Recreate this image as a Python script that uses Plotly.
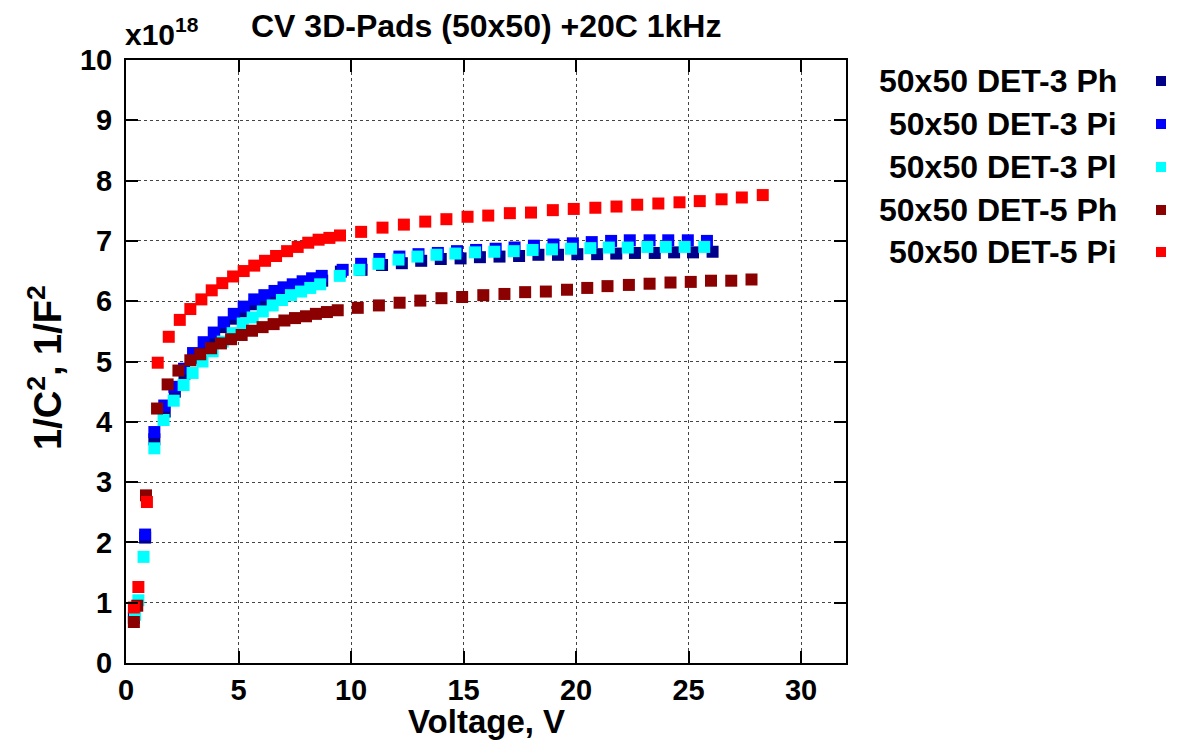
import plotly.graph_objects as go

# ---- data (values in units of 1e18 1/F^2) ----
det3_ph_v = [0.35, 0.85, 1.26, 1.72, 2.17, 2.6, 3.02, 3.47, 3.92, 4.36, 4.81, 5.25, 5.72, 6.17, 6.62, 7.02, 7.43, 7.87, 8.29, 8.72,
             9.55, 10.47, 11.38, 12.26, 13.12, 13.99, 14.87, 15.73, 16.6, 17.47, 18.33, 19.2, 20.06, 20.94, 21.79, 22.62, 23.5,
             24.36, 25.2, 26.07]
det3_ph_c = [0.75, 2.08, 3.71, 4.17, 4.50, 4.80, 5.06, 5.24, 5.40, 5.57, 5.71, 5.83, 5.95, 6.02, 6.09, 6.15, 6.20, 6.25, 6.30, 6.34,
             6.49, 6.52, 6.60, 6.63, 6.67, 6.70, 6.71, 6.73, 6.74, 6.75, 6.77, 6.77, 6.78, 6.78, 6.79, 6.80, 6.80, 6.81, 6.81, 6.82]

det3_pi_v = [0.4, 0.85, 1.26, 1.70, 2.15, 2.58, 2.98, 3.45, 3.9, 4.34, 4.79, 5.23, 5.7, 6.15, 6.6, 7.0, 7.41, 7.85, 8.27, 8.7,
             9.63, 10.45, 11.26, 12.15, 13.0, 13.86, 14.71, 15.56, 16.43, 17.27, 18.13, 19.0, 19.86, 20.7, 21.56, 22.39, 23.27,
             24.1, 24.97, 25.82]
det3_pi_c = [0.85, 2.13, 3.83, 4.27, 4.58, 4.88, 5.14, 5.32, 5.48, 5.65, 5.79, 5.91, 6.03, 6.10, 6.17, 6.23, 6.28, 6.33, 6.38, 6.42,
             6.52, 6.62, 6.70, 6.74, 6.78, 6.80, 6.83, 6.85, 6.87, 6.89, 6.92, 6.94, 6.96, 6.98, 7.00, 7.01, 7.01, 7.01, 7.01, 7.00]

det3_pl_v = [0.4, 0.55, 0.78, 1.26, 1.67, 2.12, 2.56, 2.96, 3.4, 3.85, 4.3, 4.74, 5.19, 5.63, 6.08, 6.52, 6.93, 7.33, 7.78, 8.19, 8.63,
             9.5, 10.37, 11.22, 12.11, 12.95, 13.8, 14.64, 15.51, 16.37, 17.23, 18.07, 18.93, 19.78, 20.64, 21.46, 22.3, 23.17,
             23.99, 24.83, 25.7]
det3_pl_c = [0.8, 1.04, 1.76, 3.56, 4.03, 4.35, 4.61, 4.81, 5.0, 5.17, 5.33, 5.47, 5.63, 5.73, 5.83, 5.93, 6.02, 6.10, 6.16, 6.22, 6.28,
             6.42, 6.52, 6.62, 6.69, 6.74, 6.77, 6.79, 6.81, 6.82, 6.83, 6.85, 6.86, 6.87, 6.88, 6.89, 6.89, 6.90, 6.90, 6.90, 6.90]

det5_ph_v = [0.35, 0.5, 0.89, 1.38, 1.85, 2.33, 2.86, 3.3, 3.78, 4.22, 4.67, 5.14, 5.6, 6.07, 6.56, 7.04, 7.51, 8.0, 8.44, 8.93, 9.41,
             10.3, 11.24, 12.16, 13.08, 14.02, 14.94, 15.88, 16.82, 17.74, 18.66, 19.6, 20.5, 21.4, 22.35, 23.27, 24.2, 25.1,
             26.0, 26.9, 27.8]
det5_ph_c = [0.68, 0.95, 2.78, 4.22, 4.62, 4.85, 5.02, 5.12, 5.22, 5.30, 5.37, 5.44, 5.51, 5.57, 5.62, 5.68, 5.72, 5.75, 5.79, 5.82, 5.85,
             5.89, 5.93, 5.975, 6.01, 6.05, 6.07, 6.10, 6.12, 6.15, 6.16, 6.19, 6.22, 6.25, 6.27, 6.29, 6.31, 6.32, 6.34, 6.34, 6.36]

det5_pi_v = [0.35, 0.55, 0.93, 1.41, 1.90, 2.39, 2.86, 3.35, 3.81, 4.28, 4.76, 5.23, 5.70, 6.18, 6.67, 7.16, 7.63, 8.10, 8.56, 9.04, 9.51,
             10.45, 11.4, 12.35, 13.3, 14.24, 15.18, 16.1, 17.06, 18.0, 18.97, 19.9, 20.86, 21.8, 22.72, 23.66, 24.6, 25.5,
             26.47, 27.37, 28.3]
det5_pi_c = [0.92, 1.26, 2.67, 4.98, 5.41, 5.69, 5.87, 6.03, 6.18, 6.30, 6.41, 6.50, 6.59, 6.67, 6.75, 6.83, 6.90, 6.97, 7.02, 7.05, 7.09,
             7.15, 7.22, 7.27, 7.32, 7.36, 7.40, 7.42, 7.46, 7.47, 7.51, 7.53, 7.55, 7.57, 7.60, 7.62, 7.64, 7.66, 7.69, 7.72, 7.76]

series_names = ["50x50 DET-3 Ph", "50x50 DET-3 Pi", "50x50 DET-3 Pl", "50x50 DET-5 Ph", "50x50 DET-5 Pi"]
series_colors = ["#00008b", "#0000ff", "#00ffff", "#8b0000", "#ff0000"]
series_x = [det3_ph_v, det3_pi_v, det3_pl_v, det5_ph_v, det5_pi_v]
series_y = [det3_ph_c, det3_pi_c, det3_pl_c, det5_ph_c, det5_pi_c]

x_ticks = [0, 5, 10, 15, 20, 25, 30]
y_ticks = [0, 1, 2, 3, 4, 5, 6, 7, 8, 9, 10]

# page is offset by 8 px (body margin); work in page coordinates and convert
OFF = 8
W, H = 1181 - OFF, 747 - OFF
PL, PR, PT, PB = 126, 846, 60, 663          # plot-area edges in page pixels
L, T = PL - OFF, PT - OFF
R, B = W - (PR - OFF), H - (PB - OFF)
pw, ph = PR - PL, PB - PT
FONT = "Liberation Sans, Arial, sans-serif"


def px(xp):
    return (xp - PL) / pw


def py(yp):
    return 1 - (yp - PT) / ph


fig = go.Figure()
for name, col, xs, ys in zip(series_names, series_colors, series_x, series_y):
    fig.add_trace(go.Scatter(x=xs, y=ys, mode="markers", name=name,
                             marker=dict(symbol="square", size=12, color=col, line=dict(width=0)),
                             showlegend=False))

axis_common = dict(showline=True, linecolor="black", linewidth=2, mirror="ticks",
                   ticks="inside", ticklen=12, tickwidth=2, tickcolor="black",
                   showgrid=True, gridcolor="#444444", gridwidth=1.3, griddash="dot",
                   zeroline=False,
                   tickfont=dict(family=FONT, size=29, color="black", weight="bold"))

fig.update_xaxes(range=[0, 32], tickvals=x_ticks, ticktext=[str(v) for v in x_ticks],
                 ticklabelstandoff=0, **axis_common)
fig.update_yaxes(range=[0, 10], tickvals=y_ticks, ticktext=[str(v) for v in y_ticks],
                 ticklabelstandoff=6, **axis_common)

ann = []
ann.append(dict(text="<b>CV 3D-Pads (50x50) +20C 1kHz</b>", xref="paper", yref="paper",
                x=0.5, y=py(26), showarrow=False,
                font=dict(family=FONT, size=32, color="black"), xanchor="center", yanchor="middle"))
ann.append(dict(text="<b>x10<sup>18</sup></b>", xref="paper", yref="paper",
                x=px(123), y=py(32), showarrow=False,
                font=dict(family=FONT, size=30, color="black"), xanchor="left", yanchor="middle"))
ann.append(dict(text="<b>Voltage, V</b>", xref="paper", yref="paper",
                x=0.5, y=py(721), showarrow=False,
                font=dict(family=FONT, size=33, color="black"), xanchor="center", yanchor="middle"))
ann.append(dict(text="<b>1/C<sup>2</sup>, 1/F<sup>2</sup></b>", xref="paper", yref="paper",
                x=px(45), y=py(368), showarrow=False, textangle=-90,
                font=dict(family=FONT, size=38, color="black"), xanchor="center", yanchor="middle"))

shapes = []
row_y = [81, 124, 167, 210, 252]
for name, col, ry in zip(series_names, series_colors, row_y):
    ann.append(dict(text="<b>" + name + "</b>", xref="paper", yref="paper",
                    x=px(1119), y=py(ry), showarrow=False, xanchor="right", yanchor="middle",
                    font=dict(family=FONT, size=32, color="black")))
    cx, cy = px(1161), py(ry)
    hw, hh = 5 / pw, 5 / ph
    shapes.append(dict(type="rect", xref="paper", yref="paper",
                       x0=cx - hw, x1=cx + hw, y0=cy - hh, y1=cy + hh,
                       fillcolor=col, line=dict(width=0)))

fig.update_layout(width=W, height=H, margin=dict(l=L, r=R, t=T, b=B, autoexpand=False),
                  paper_bgcolor="white", plot_bgcolor="white",
                  annotations=ann, shapes=shapes, showlegend=False,
                  font=dict(family=FONT, color="black"))

fig.write_html("out.html")
